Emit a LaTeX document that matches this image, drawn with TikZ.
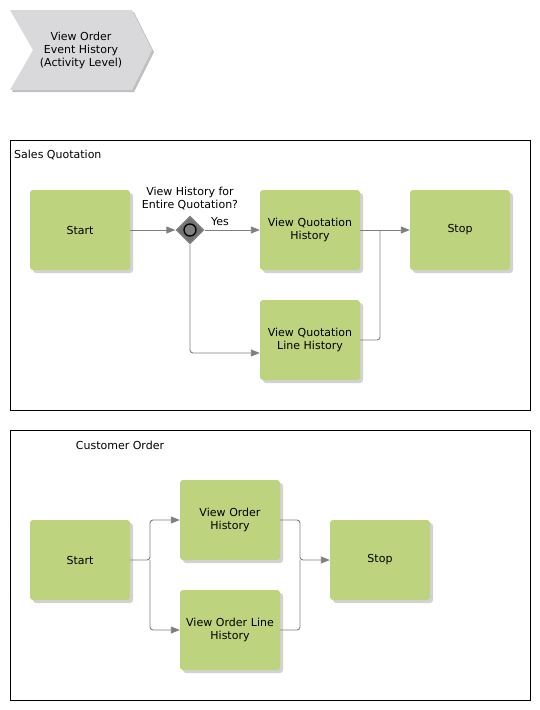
\documentclass[tikz,border=0pt]{standalone}
\usepackage{fontspec}
\setmainfont{DejaVu Sans}
\usetikzlibrary{arrows.meta,shapes.geometric}
\definecolor{boxgreen}{HTML}{BED37E}
\definecolor{chevgray}{HTML}{D9D9DB}
\definecolor{linegray}{HTML}{7F7F7F}
\definecolor{shadowgray}{HTML}{BFBFBF}
\tikzset{
  actbox/.style={draw=none, fill=boxgreen, rounded corners=3pt, minimum width=100pt, minimum height=80pt, inner sep=0pt, align=center, text width=98pt,
    font=\fontsize{11}{13}\selectfont},
  boxshadow/.style={fill=shadowgray, rounded corners=3pt, opacity=0.7},
  frame/.style={draw=black, line width=0.8pt, fill=none},
  conn/.style={draw=linegray, line width=0.9pt, rounded corners=3pt, -{Triangle[length=9pt,width=7pt]}},
  link/.style={draw=linegray, line width=0.9pt, rounded corners=3pt},
  lbl/.style={font=\fontsize{11}{13}\selectfont, inner sep=0pt, align=center}
}
\begin{document}
\begin{tikzpicture}[x=1pt,y=-1pt]
\useasboundingbox (0,0) rectangle (540,710);
% chevron
\fill[shadowgray] (12,12) -- (134,12) -- (154,52) -- (134,92) -- (12,92) -- (35,52) -- cycle;
\fill[chevgray] (10,10) -- (132,10) -- (152,50) -- (132,90) -- (10,90) -- (33,50) -- cycle;
\node[lbl] (title) at (81,50) {View Order\\Event History\\(Activity Level)};

% frames
\draw[frame] (10,140) rectangle (530,410);
\node[lbl, anchor=west] (sqlabel) at (14,155) {Sales Quotation};
\draw[frame] (10,430) rectangle (530,700);
\node[lbl] (colabel) at (120,445) {Customer Order};

% shadows
\foreach \x/\y in {30/190, 260/190, 410/190, 260/300, 30/520, 180/480, 180/590, 330/520}
  \fill[boxshadow] (\x+3,\y+3) rectangle (\x+103,\y+83);

% Sales quotation nodes
\node[actbox] (s1) at (80,230) {Start};
\node[draw=none, fill=linegray, diamond, minimum width=29pt, minimum height=29pt, inner sep=0pt] (gw) at (190,230) {};
\fill[linegray!90!black] (190,218) -- (202,230) -- (190,242) -- (178,230) -- cycle;
\draw[black, line width=1.3pt, fill=linegray] (gw.center) circle (6pt);
\node[lbl] (gwlabel) at (190,198.5) {View History for\\Entire Quotation?};
\node[lbl] (yes) at (220,222) {Yes};
\node[actbox] (qh) at (310,230) {View Quotation\\History};
\node[actbox] (stop1) at (460,230) {Stop};
\node[actbox] (qlh) at (310,340) {View Quotation\\Line History};

\draw[conn] (s1.east) -- (gw.west);
\draw[conn] (gw.east) -- (qh.west);
\draw[conn] (gw.south) |- ([yshift=-13pt]qlh.west);
\draw[conn] (qh.east) -- (stop1.west);
\draw[link] (qlh.east) -- (380,340) -- (380,230);

% Customer order nodes
\node[actbox] (s2) at (80,560) {Start};
\node[actbox] (oh) at (230,520) {View Order\\History};
\node[actbox] (olh) at (230,630) {View Order Line\\History};
\node[actbox] (stop2) at (380,560) {Stop};

\draw[conn] (s2.east) -- (150,560) |- (oh.west);
\draw[conn] (150,560) |- (olh.west);
\draw[conn] (oh.east) -- (300,520) |- (stop2.west);
\draw[link] (olh.east) -- (300,630) -- (300,560);
\end{tikzpicture}
\end{document}
